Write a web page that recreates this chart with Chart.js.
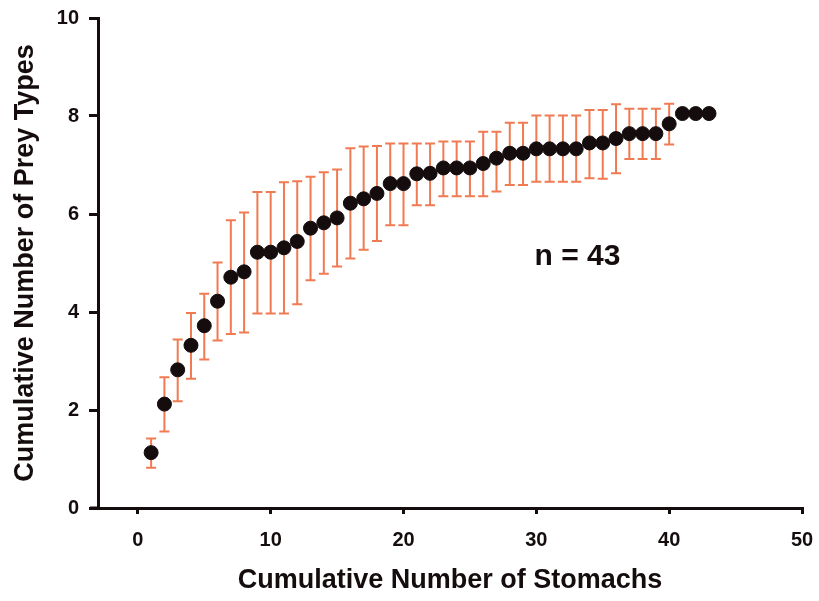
<!DOCTYPE html>
<html>
<head>
<meta charset="utf-8">
<script src="https://cdn.jsdelivr.net/npm/chart.js@4.4.1/dist/chart.umd.min.js"></script>
<style>
  body { margin: 0; background: #fff; }
  #wrap { width: 819px; height: 601px; }
</style>
</head>
<body>
<div id="wrap"><canvas id="chart" width="819" height="601"></canvas></div>
<script>
// cumulative number of stomachs (x) and mean number of prey types (y)
const stomachs = [1,2,3,4,5,6,7,8,9,10,11,12,13,14,15,16,17,18,19,20,21,22,23,24,25,26,27,28,29,30,31,32,33,34,35,36,37,38,39,40,41,42,43];
const meanTypes = [1.13,2.12,2.82,3.32,3.72,4.22,4.71,4.82,5.22,5.22,5.31,5.44,5.71,5.82,5.92,6.22,6.31,6.42,6.62,6.62,6.82,6.83,6.94,6.94,6.94,7.03,7.14,7.24,7.24,7.33,7.33,7.33,7.33,7.45,7.45,7.54,7.64,7.64,7.64,7.84,8.05,8.05,8.05];
// error bar ends (null = no bar)
const upperBar = [1.42,2.67,3.44,3.98,4.37,5.01,5.87,6.03,6.45,6.45,6.65,6.67,6.76,6.85,6.91,7.34,7.38,7.39,7.44,7.44,7.44,7.44,7.48,7.48,7.48,7.68,7.68,7.86,7.86,8.01,8.01,8.01,8.01,8.12,8.12,8.24,8.15,8.15,8.15,8.25,null,null,null];
const lowerBar = [0.82,1.56,2.18,2.64,3.03,3.42,3.55,3.58,3.97,3.97,3.97,4.16,4.65,4.78,4.93,5.09,5.27,5.45,5.77,5.77,6.18,6.18,6.36,6.36,6.36,6.36,6.46,6.59,6.59,6.66,6.66,6.66,6.66,6.73,6.72,6.83,7.12,7.12,7.12,7.42,null,null,null];
const xTicks = [0,10,20,30,40,50];
const yTicks = [0,2,4,6,8,10];
const noteText = 'n = 43';
const notePos = [33.1, 5.12];

const fontName = '"Liberation Sans", Arial, sans-serif';
const ink = '#150d0d';
const barColor = '#f07a52';

// draw error bars under the points, using the chart's scales
const errorBars = {
  id: 'errorBars',
  beforeDatasetsDraw(chart) {
    const ctx = chart.ctx;
    const xs = chart.scales.x, ys = chart.scales.y;
    ctx.save();
    ctx.strokeStyle = barColor;
    ctx.lineWidth = 2;
    stomachs.forEach((s, i) => {
      if (upperBar[i] == null) return;
      const px = xs.getPixelForValue(s);
      const top = ys.getPixelForValue(upperBar[i]);
      const bot = ys.getPixelForValue(lowerBar[i]);
      ctx.beginPath();
      ctx.moveTo(px, top); ctx.lineTo(px, bot);
      ctx.moveTo(px - 5, top); ctx.lineTo(px + 5, top);
      ctx.moveTo(px - 5, bot); ctx.lineTo(px + 5, bot);
      ctx.stroke();
    });
    ctx.restore();
  },
  afterDraw(chart) {
    const ctx = chart.ctx;
    const area = chart.chartArea;
    ctx.save();
    // x axis line runs a little past the y axis
    ctx.strokeStyle = ink;
    ctx.lineWidth = 3;
    ctx.beginPath();
    ctx.moveTo(area.left - 8, area.bottom);
    ctx.lineTo(area.left, area.bottom);
    ctx.stroke();
    ctx.fillStyle = ink;
    ctx.font = 'bold 30px ' + fontName;
    ctx.textAlign = 'center';
    ctx.textBaseline = 'middle';
    ctx.fillText(noteText, chart.scales.x.getPixelForValue(notePos[0]), chart.scales.y.getPixelForValue(notePos[1]));
    ctx.restore();
  }
};

new Chart(document.getElementById('chart'), {
  type: 'scatter',
  data: {
    datasets: [{
      data: stomachs.map((s, i) => ({ x: s, y: meanTypes[i] })),
      backgroundColor: ink,
      borderColor: ink,
      pointRadius: 7,
      pointHoverRadius: 7,
      showLine: false
    }]
  },
  options: {
    responsive: false,
    animation: false,
    layout: { padding: { top: 18, right: 17, left: 0, bottom: 0 } },
    plugins: { legend: { display: false }, tooltip: { enabled: false } },
    scales: {
      x: {
        type: 'linear',
        min: -3, max: 50,
        afterBuildTicks(scale) { scale.ticks = xTicks.map(v => ({ value: v })); },
        afterFit(scale) { scale.height = 93; scale.paddingLeft = 0; scale.paddingRight = 0; },
        border: { display: true, color: ink, width: 3 },
        grid: { drawOnChartArea: false, drawTicks: true, tickLength: 6, color: ink, lineWidth: 3 },
        ticks: { color: ink, padding: 14, font: { family: fontName, size: 20, weight: 'bold' } },
        title: {
          display: true, text: 'Cumulative Number of Stomachs', color: ink,
          padding: { top: 4, bottom: 4 },
          font: { family: fontName, size: 27, weight: 'bold' }
        }
      },
      y: {
        min: 0, max: 10,
        afterBuildTicks(scale) { scale.ticks = yTicks.map(v => ({ value: v })); },
        afterFit(scale) { scale.width = 98; scale.paddingTop = 0; scale.paddingBottom = 0; },
        border: { display: true, color: ink, width: 3 },
        grid: { drawOnChartArea: false, drawTicks: true, tickLength: 9, color: ink, lineWidth: 3 },
        ticks: { color: ink, padding: 10, font: { family: fontName, size: 20, weight: 'bold' } },
        title: {
          display: true, text: 'Cumulative Number of Prey Types', color: ink,
          padding: { top: 9, bottom: 9 },
          font: { family: fontName, size: 27, weight: 'bold' }
        }
      }
    }
  },
  plugins: [errorBars]
});
</script>
</body>
</html>
